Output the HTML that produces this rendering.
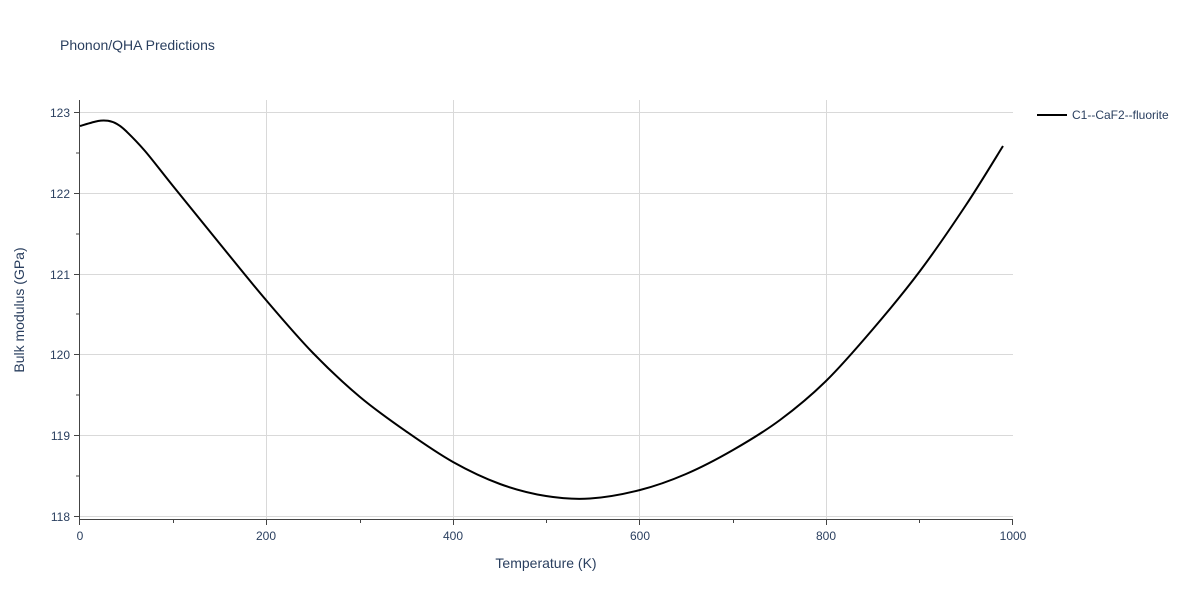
<!DOCTYPE html>
<html><head><style>
body{margin:0;background:#fff;font-family:"Liberation Sans",sans-serif;}
svg text{font-family:"Liberation Sans",sans-serif;fill:#2a3f5f;}
</style></head><body>
<svg width="1200" height="600" xmlns="http://www.w3.org/2000/svg">
<rect width="1200" height="600" fill="#fff"/>
<text x="60" y="50" font-size="14">Phonon/QHA Predictions</text>
<g stroke="#d9d9d9" stroke-width="1">
<line x1="266.5" y1="100" x2="266.5" y2="520"/>
<line x1="453.5" y1="100" x2="453.5" y2="520"/>
<line x1="639.5" y1="100" x2="639.5" y2="520"/>
<line x1="826.5" y1="100" x2="826.5" y2="520"/>
<line x1="80" y1="112.5" x2="1013" y2="112.5"/>
<line x1="80" y1="193.5" x2="1013" y2="193.5"/>
<line x1="80" y1="274.5" x2="1013" y2="274.5"/>
<line x1="80" y1="354.5" x2="1013" y2="354.5"/>
<line x1="80" y1="435.5" x2="1013" y2="435.5"/>
<line x1="80" y1="516.5" x2="1013" y2="516.5"/>
</g>
<g stroke="#444" stroke-width="1">
<line x1="79.5" y1="100" x2="79.5" y2="520"/>
<line x1="79" y1="519.5" x2="1013" y2="519.5"/>
<line x1="79.5" y1="520" x2="79.5" y2="525"/>
<line x1="173.5" y1="520" x2="173.5" y2="523"/>
<line x1="266.5" y1="520" x2="266.5" y2="525"/>
<line x1="360.5" y1="520" x2="360.5" y2="523"/>
<line x1="453.5" y1="520" x2="453.5" y2="525"/>
<line x1="546.5" y1="520" x2="546.5" y2="523"/>
<line x1="639.5" y1="520" x2="639.5" y2="525"/>
<line x1="733.5" y1="520" x2="733.5" y2="523"/>
<line x1="826.5" y1="520" x2="826.5" y2="525"/>
<line x1="919.5" y1="520" x2="919.5" y2="523"/>
<line x1="1012.5" y1="520" x2="1012.5" y2="525"/>
<line x1="74" y1="112.5" x2="79" y2="112.5"/>
<line x1="74" y1="193.5" x2="79" y2="193.5"/>
<line x1="74" y1="274.5" x2="79" y2="274.5"/>
<line x1="74" y1="354.5" x2="79" y2="354.5"/>
<line x1="74" y1="435.5" x2="79" y2="435.5"/>
<line x1="74" y1="516.5" x2="79" y2="516.5"/>
<line x1="76" y1="153" x2="79" y2="153"/>
<line x1="76" y1="234" x2="79" y2="234"/>
<line x1="76" y1="314" x2="79" y2="314"/>
<line x1="76" y1="395" x2="79" y2="395"/>
<line x1="76" y1="476" x2="79" y2="476"/>
</g>
<g font-size="12" text-anchor="middle">
<text x="80" y="540">0</text><text x="266" y="540">200</text><text x="453" y="540">400</text>
<text x="640" y="540">600</text><text x="826" y="540">800</text><text x="1013" y="540">1000</text>
</g>
<g font-size="12" text-anchor="end">
<text x="70" y="117">123</text><text x="70" y="198">122</text><text x="70" y="279">121</text>
<text x="70" y="359">120</text><text x="70" y="440">119</text><text x="70" y="521">118</text>
</g>
<text x="546" y="568" font-size="14" text-anchor="middle">Temperature (K)</text>
<text transform="translate(24,310) rotate(-90)" font-size="14" text-anchor="middle">Bulk modulus (GPa)</text>
<path id="curve" fill="none" stroke="#000" stroke-width="2" d=""/>
<line x1="1037" y1="115" x2="1067" y2="115" stroke="#000" stroke-width="2"/>
<text x="1072" y="119" font-size="12">C1--CaF2--fluorite</text>
</svg>
<script>
var p=[[80,126],[98,121],[108,120.8],[117,124],[126,131],[145,151],[173,186],[220,244],[266,300],[313,353],[360,397],[407,432],[453,462],[500,484],[546,496],[590,498.5],[640,490],[686,474],[733,450],[780,420],[826,381],[873,329],[920,271],[966,205],[1003,146]];
var d="M"+p[0][0]+","+p[0][1];
for(var i=0;i<p.length-1;i++){var a=p[Math.max(i-1,0)],b=p[i],c=p[i+1],e=p[Math.min(i+2,p.length-1)];
d+=" C"+(b[0]+(c[0]-a[0])/6)+","+(b[1]+(c[1]-a[1])/6)+" "+(c[0]-(e[0]-b[0])/6)+","+(c[1]-(e[1]-b[1])/6)+" "+c[0]+","+c[1];}
document.getElementById("curve").setAttribute("d",d);
</script>
</body></html>
